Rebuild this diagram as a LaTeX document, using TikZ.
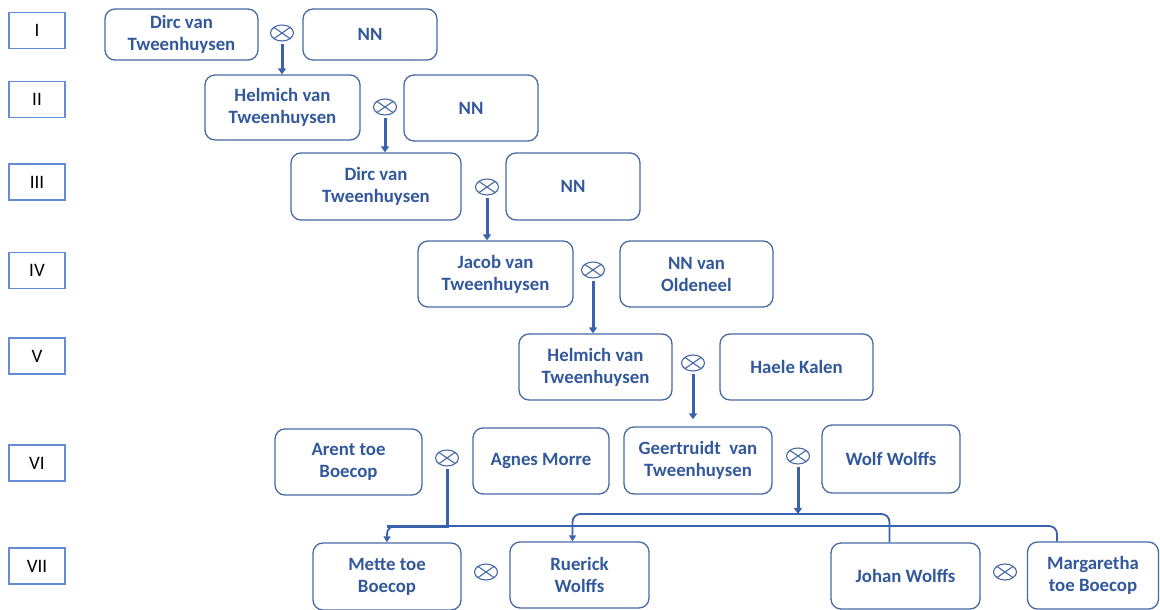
\documentclass[tikz,border=0pt]{standalone}
\usepackage{fontspec}
\setmainfont{Carlito}
\usetikzlibrary{arrows.meta,shapes.geometric}
\definecolor{namecol}{RGB}{50,88,156}
\definecolor{framecol}{RGB}{70,104,164}
\definecolor{gencol}{RGB}{100,140,215}
\definecolor{linecol}{RGB}{59,99,172}

\begin{document}
\begin{tikzpicture}[x=1pt,y=-1pt,
    gen/.style={draw=gencol,line width=1.2pt,minimum width=56pt,minimum height=36pt,
        inner sep=0pt,font=\fontsize{19}{22}\selectfont},
    person/.style={draw=framecol,line width=1.3pt,rounded corners=10pt,align=center,
        text=namecol,inner sep=0pt,minimum height=66pt,
        font=\fontsize{18.8}{22}\selectfont\bfseries},
    wed/.style={ellipse,draw=framecol,line width=1.1pt,minimum width=23pt,
        minimum height=16pt,inner sep=0pt,
        path picture={\draw[framecol,line width=1.1pt]
            (path picture bounding box.north west) -- (path picture bounding box.south east)
            (path picture bounding box.north east) -- (path picture bounding box.south west);}},
    descent/.style={draw=linecol,line width=3pt,shorten <=2pt,
        -{Triangle[width=8pt,length=6pt]}},
    kin/.style={draw=linecol,line width=1.8pt,-{Triangle[width=7pt,length=6pt]}}]
    \useasboundingbox (0,0) rectangle (1160,610);

    \node[gen] (g1) at (37,30.5) {I};
    \node[gen] (g2) at (37,99.5) {II};
    \node[gen] (g3) at (37,182) {III};
    \node[gen] (g4) at (37,270.5) {IV};
    \node[gen] (g5) at (37,356) {V};
    \node[gen] (g6) at (37,463) {VI};
    \node[gen] (g7) at (37,566) {VII};

    \node[person,minimum width=153pt,minimum height=51pt] (dirc1) at (181.5,34.5) {Dirc van\\Tweenhuysen};
    \node[person,minimum width=134pt,minimum height=51pt] (nn1) at (370,34.5) {NN};
    \node[person,minimum width=155pt,minimum height=65pt] (helm2) at (282.5,107.5) {Helmich van\\Tweenhuysen};
    \node[person,minimum width=134pt] (nn2) at (471,108) {NN};
    \node[person,minimum width=170pt,minimum height=67pt] (dirc3) at (376,186.5) {Dirc van\\Tweenhuysen};
    \node[person,minimum width=134pt,minimum height=67pt] (nn3) at (573,186.5) {NN};
    \node[person,minimum width=155pt] (jacob4) at (495.5,274) {Jacob van\\Tweenhuysen};
    \node[person,minimum width=153pt] (old4) at (696.5,274) {NN van\\Oldeneel};
    \node[person,minimum width=153pt] (helm5) at (595.5,367) {Helmich van\\Tweenhuysen};
    \node[person,minimum width=153pt] (haele5) at (796.5,367) {Haele Kalen};
    \node[person,minimum width=147pt] (arent6) at (348.5,462) {Arent toe\\Boecop};
    \node[person,minimum width=136pt] (agnes6) at (541,461) {Agnes Morre};
    \node[person,minimum width=148pt,minimum height=67pt] (geert6) at (698,460.5) {Geertruidt~ van\\Tweenhuysen};
    \node[person,minimum width=138pt,minimum height=68pt] (wolf6) at (891,459) {Wolf Wolffs};
    \node[person,minimum width=148pt,minimum height=67pt] (mette7) at (387,576.5) {Mette toe\\Boecop};
    \node[person,minimum width=139pt] (ruer7) at (579.5,575) {Ruerick\\Wolffs};
    \node[person,minimum width=149pt] (johan7) at (905.5,576) {Johan Wolffs};
    \node[person,minimum width=131pt,minimum height=67pt] (marg7) at (1093,575.5) {Margaretha\\toe Boecop};

    \node[wed] (m1) at (282,33) {};
    \node[wed] (m2) at (385,107) {};
    \node[wed] (m3) at (487,187) {};
    \node[wed] (m4) at (593,270) {};
    \node[wed] (m5) at (693,363) {};
    \node[wed] (m6) at (447,458) {};
    \node[wed] (m7) at (798,456) {};
    \node[wed] (m8) at (486,572) {};
    \node[wed] (m9) at (1005,572) {};

    \coordinate (busA) at (0,514);
    \coordinate (busB) at (0,526);
    \coordinate (rtop) at ([xshift=-7pt]ruer7.north);
    \coordinate (jtop) at ([xshift=-16pt]johan7.north);
    \coordinate (gtop) at ([xshift=-36pt]marg7.north);

    \draw[descent] (m1.south) -- (m1.south |- helm2.north);
    \draw[descent] (m2.south) -- (m2.south |- dirc3.north);
    \draw[descent] (m3.south) -- (m3.south |- jacob4.north);
    \draw[descent] (m4.south) -- (m4.south |- helm5.north);
    \draw[descent,shorten >=7pt] (m5.south) -- (m5.south |- geert6.north);

    \draw[kin] (jtop) [rounded corners=8pt] |- (rtop |- busA) [sharp corners] -- (rtop);
    \draw[kin] (gtop) [rounded corners=8pt] |- (mette7.north |- busB) [sharp corners] -- (mette7.north);
    \draw[descent,-] (m6.south) |- (mette7.north |- busB);
    \draw[descent] (m7.south) -- (m7.south |- busA);
\end{tikzpicture}
\end{document}
